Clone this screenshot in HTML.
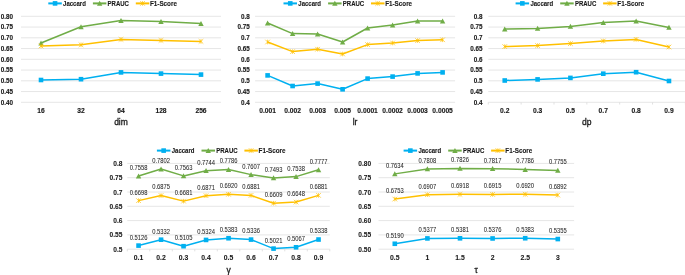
<!DOCTYPE html>
<html><head><meta charset="utf-8"><style>
html,body{margin:0;padding:0;background:#fff;width:685px;height:275px;overflow:hidden}
svg{display:block;font-family:"Liberation Sans",sans-serif;will-change:transform}
</style></head><body>
<svg width="685" height="275" viewBox="0 0 685 275">
<rect width="685" height="275" fill="#fff"/>
<line x1="21.00" y1="16.30" x2="221.00" y2="16.30" stroke="#DEDEDE" stroke-width="0.75"/>
<text transform="translate(12.90,18.55) scale(0.81,1)" text-anchor="end" font-size="7.8" font-weight="bold" fill="#1a1a1a" stroke="#1a1a1a" stroke-width="0.15">0.80</text>
<line x1="21.00" y1="27.05" x2="221.00" y2="27.05" stroke="#DEDEDE" stroke-width="0.75"/>
<text transform="translate(12.90,29.30) scale(0.81,1)" text-anchor="end" font-size="7.8" font-weight="bold" fill="#1a1a1a" stroke="#1a1a1a" stroke-width="0.15">0.75</text>
<line x1="21.00" y1="37.80" x2="221.00" y2="37.80" stroke="#DEDEDE" stroke-width="0.75"/>
<text transform="translate(12.90,40.05) scale(0.81,1)" text-anchor="end" font-size="7.8" font-weight="bold" fill="#1a1a1a" stroke="#1a1a1a" stroke-width="0.15">0.70</text>
<line x1="21.00" y1="48.55" x2="221.00" y2="48.55" stroke="#DEDEDE" stroke-width="0.75"/>
<text transform="translate(12.90,50.80) scale(0.81,1)" text-anchor="end" font-size="7.8" font-weight="bold" fill="#1a1a1a" stroke="#1a1a1a" stroke-width="0.15">0.65</text>
<line x1="21.00" y1="59.30" x2="221.00" y2="59.30" stroke="#DEDEDE" stroke-width="0.75"/>
<text transform="translate(12.90,61.55) scale(0.81,1)" text-anchor="end" font-size="7.8" font-weight="bold" fill="#1a1a1a" stroke="#1a1a1a" stroke-width="0.15">0.60</text>
<line x1="21.00" y1="70.05" x2="221.00" y2="70.05" stroke="#DEDEDE" stroke-width="0.75"/>
<text transform="translate(12.90,72.30) scale(0.81,1)" text-anchor="end" font-size="7.8" font-weight="bold" fill="#1a1a1a" stroke="#1a1a1a" stroke-width="0.15">0.55</text>
<line x1="21.00" y1="80.80" x2="221.00" y2="80.80" stroke="#DEDEDE" stroke-width="0.75"/>
<text transform="translate(12.90,83.05) scale(0.81,1)" text-anchor="end" font-size="7.8" font-weight="bold" fill="#1a1a1a" stroke="#1a1a1a" stroke-width="0.15">0.50</text>
<line x1="21.00" y1="91.55" x2="221.00" y2="91.55" stroke="#DEDEDE" stroke-width="0.75"/>
<text transform="translate(12.90,93.80) scale(0.81,1)" text-anchor="end" font-size="7.8" font-weight="bold" fill="#1a1a1a" stroke="#1a1a1a" stroke-width="0.15">0.45</text>
<line x1="21.00" y1="102.30" x2="221.00" y2="102.30" stroke="#DEDEDE" stroke-width="0.75"/>
<text transform="translate(12.90,104.55) scale(0.81,1)" text-anchor="end" font-size="7.8" font-weight="bold" fill="#1a1a1a" stroke="#1a1a1a" stroke-width="0.15">0.40</text>
<text transform="translate(41.00,112.75) scale(0.86,1)" text-anchor="middle" font-size="7.8" font-weight="bold" fill="#1a1a1a" stroke="#1a1a1a" stroke-width="0.15">16</text>
<text transform="translate(81.00,112.75) scale(0.86,1)" text-anchor="middle" font-size="7.8" font-weight="bold" fill="#1a1a1a" stroke="#1a1a1a" stroke-width="0.15">32</text>
<text transform="translate(121.00,112.75) scale(0.86,1)" text-anchor="middle" font-size="7.8" font-weight="bold" fill="#1a1a1a" stroke="#1a1a1a" stroke-width="0.15">64</text>
<text transform="translate(161.00,112.75) scale(0.86,1)" text-anchor="middle" font-size="7.8" font-weight="bold" fill="#1a1a1a" stroke="#1a1a1a" stroke-width="0.15">128</text>
<text transform="translate(201.00,112.75) scale(0.86,1)" text-anchor="middle" font-size="7.8" font-weight="bold" fill="#1a1a1a" stroke="#1a1a1a" stroke-width="0.15">256</text>
<text x="121.00" y="124.80" text-anchor="middle" font-size="8.5" fill="#1a1a1a" stroke="#1a1a1a" stroke-width="0.3">dim</text>
<path d="M41.00,80.00 L81.00,79.20 L121.00,72.40 L161.00,73.60 L201.00,74.60" stroke="#00B0F0" stroke-width="1.5" fill="none" stroke-linejoin="round"/>
<rect x="38.70" y="77.70" width="4.6" height="4.6" fill="#00B0F0"/>
<rect x="78.70" y="76.90" width="4.6" height="4.6" fill="#00B0F0"/>
<rect x="118.70" y="70.10" width="4.6" height="4.6" fill="#00B0F0"/>
<rect x="158.70" y="71.30" width="4.6" height="4.6" fill="#00B0F0"/>
<rect x="198.70" y="72.30" width="4.6" height="4.6" fill="#00B0F0"/>
<path d="M41.00,43.00 L81.00,26.80 L121.00,20.60 L161.00,21.60 L201.00,23.60" stroke="#70AD47" stroke-width="1.5" fill="none" stroke-linejoin="round"/>
<path d="M41.00,40.40 L43.70,45.40 L38.30,45.40Z" fill="#70AD47"/>
<path d="M81.00,24.20 L83.70,29.20 L78.30,29.20Z" fill="#70AD47"/>
<path d="M121.00,18.00 L123.70,23.00 L118.30,23.00Z" fill="#70AD47"/>
<path d="M161.00,19.00 L163.70,24.00 L158.30,24.00Z" fill="#70AD47"/>
<path d="M201.00,21.00 L203.70,26.00 L198.30,26.00Z" fill="#70AD47"/>
<path d="M41.00,46.00 L81.00,44.80 L121.00,39.40 L161.00,40.40 L201.00,41.40" stroke="#FFC000" stroke-width="1.5" fill="none" stroke-linejoin="round"/>
<path d="M38.70,43.70L43.30,48.30M43.30,43.70L38.70,48.30M41.00,43.70L41.00,48.30" stroke="#FFC000" stroke-width="0.7" fill="none"/>
<path d="M78.70,42.50L83.30,47.10M83.30,42.50L78.70,47.10M81.00,42.50L81.00,47.10" stroke="#FFC000" stroke-width="0.7" fill="none"/>
<path d="M118.70,37.10L123.30,41.70M123.30,37.10L118.70,41.70M121.00,37.10L121.00,41.70" stroke="#FFC000" stroke-width="0.7" fill="none"/>
<path d="M158.70,38.10L163.30,42.70M163.30,38.10L158.70,42.70M161.00,38.10L161.00,42.70" stroke="#FFC000" stroke-width="0.7" fill="none"/>
<path d="M198.70,39.10L203.30,43.70M203.30,39.10L198.70,43.70M201.00,39.10L201.00,43.70" stroke="#FFC000" stroke-width="0.7" fill="none"/>
<line x1="48.30" y1="3.40" x2="61.80" y2="3.40" stroke="#00B0F0" stroke-width="2"/>
<rect x="52.75" y="1.10" width="4.6" height="4.6" fill="#00B0F0"/>
<text transform="translate(63.10,5.90) scale(0.86,1)" text-anchor="start" font-size="7.0" font-weight="bold" fill="#1a1a1a" stroke="#1a1a1a" stroke-width="0.12">Jaccard</text>
<line x1="92.90" y1="3.40" x2="106.40" y2="3.40" stroke="#70AD47" stroke-width="2"/>
<path d="M99.65,0.80 L102.35,5.80 L96.95,5.80Z" fill="#70AD47"/>
<text transform="translate(107.60,5.90) scale(0.86,1)" text-anchor="start" font-size="7.0" font-weight="bold" fill="#1a1a1a" stroke="#1a1a1a" stroke-width="0.12">PRAUC</text>
<line x1="135.80" y1="3.40" x2="149.30" y2="3.40" stroke="#FFC000" stroke-width="2"/>
<path d="M140.25,1.10L144.85,5.70M144.85,1.10L140.25,5.70M142.55,1.10L142.55,5.70" stroke="#FFC000" stroke-width="0.7" fill="none"/>
<text transform="translate(150.00,5.90) scale(0.9,1)" text-anchor="start" font-size="7.0" font-weight="bold" fill="#1a1a1a" stroke="#1a1a1a" stroke-width="0.12">F1-Score</text>
<line x1="255.10" y1="16.30" x2="455.10" y2="16.30" stroke="#DEDEDE" stroke-width="0.75"/>
<text transform="translate(249.70,18.55) scale(0.81,1)" text-anchor="end" font-size="7.8" font-weight="bold" fill="#1a1a1a" stroke="#1a1a1a" stroke-width="0.15">0.8</text>
<line x1="255.10" y1="27.05" x2="455.10" y2="27.05" stroke="#DEDEDE" stroke-width="0.75"/>
<text transform="translate(249.70,29.30) scale(0.81,1)" text-anchor="end" font-size="7.8" font-weight="bold" fill="#1a1a1a" stroke="#1a1a1a" stroke-width="0.15">0.75</text>
<line x1="255.10" y1="37.80" x2="455.10" y2="37.80" stroke="#DEDEDE" stroke-width="0.75"/>
<text transform="translate(249.70,40.05) scale(0.81,1)" text-anchor="end" font-size="7.8" font-weight="bold" fill="#1a1a1a" stroke="#1a1a1a" stroke-width="0.15">0.7</text>
<line x1="255.10" y1="48.55" x2="455.10" y2="48.55" stroke="#DEDEDE" stroke-width="0.75"/>
<text transform="translate(249.70,50.80) scale(0.81,1)" text-anchor="end" font-size="7.8" font-weight="bold" fill="#1a1a1a" stroke="#1a1a1a" stroke-width="0.15">0.65</text>
<line x1="255.10" y1="59.30" x2="455.10" y2="59.30" stroke="#DEDEDE" stroke-width="0.75"/>
<text transform="translate(249.70,61.55) scale(0.81,1)" text-anchor="end" font-size="7.8" font-weight="bold" fill="#1a1a1a" stroke="#1a1a1a" stroke-width="0.15">0.6</text>
<line x1="255.10" y1="70.05" x2="455.10" y2="70.05" stroke="#DEDEDE" stroke-width="0.75"/>
<text transform="translate(249.70,72.30) scale(0.81,1)" text-anchor="end" font-size="7.8" font-weight="bold" fill="#1a1a1a" stroke="#1a1a1a" stroke-width="0.15">0.55</text>
<line x1="255.10" y1="80.80" x2="455.10" y2="80.80" stroke="#DEDEDE" stroke-width="0.75"/>
<text transform="translate(249.70,83.05) scale(0.81,1)" text-anchor="end" font-size="7.8" font-weight="bold" fill="#1a1a1a" stroke="#1a1a1a" stroke-width="0.15">0.5</text>
<line x1="255.10" y1="91.55" x2="455.10" y2="91.55" stroke="#DEDEDE" stroke-width="0.75"/>
<text transform="translate(249.70,93.80) scale(0.81,1)" text-anchor="end" font-size="7.8" font-weight="bold" fill="#1a1a1a" stroke="#1a1a1a" stroke-width="0.15">0.45</text>
<line x1="255.10" y1="102.30" x2="455.10" y2="102.30" stroke="#DEDEDE" stroke-width="0.75"/>
<text transform="translate(249.70,104.55) scale(0.81,1)" text-anchor="end" font-size="7.8" font-weight="bold" fill="#1a1a1a" stroke="#1a1a1a" stroke-width="0.15">0.4</text>
<text transform="translate(267.60,112.75) scale(0.86,1)" text-anchor="middle" font-size="7.8" font-weight="bold" fill="#1a1a1a" stroke="#1a1a1a" stroke-width="0.15">0.001</text>
<text transform="translate(292.60,112.75) scale(0.86,1)" text-anchor="middle" font-size="7.8" font-weight="bold" fill="#1a1a1a" stroke="#1a1a1a" stroke-width="0.15">0.002</text>
<text transform="translate(317.60,112.75) scale(0.86,1)" text-anchor="middle" font-size="7.8" font-weight="bold" fill="#1a1a1a" stroke="#1a1a1a" stroke-width="0.15">0.003</text>
<text transform="translate(342.60,112.75) scale(0.86,1)" text-anchor="middle" font-size="7.8" font-weight="bold" fill="#1a1a1a" stroke="#1a1a1a" stroke-width="0.15">0.005</text>
<text transform="translate(367.60,112.75) scale(0.86,1)" text-anchor="middle" font-size="7.8" font-weight="bold" fill="#1a1a1a" stroke="#1a1a1a" stroke-width="0.15">0.0001</text>
<text transform="translate(392.60,112.75) scale(0.86,1)" text-anchor="middle" font-size="7.8" font-weight="bold" fill="#1a1a1a" stroke="#1a1a1a" stroke-width="0.15">0.0002</text>
<text transform="translate(417.60,112.75) scale(0.86,1)" text-anchor="middle" font-size="7.8" font-weight="bold" fill="#1a1a1a" stroke="#1a1a1a" stroke-width="0.15">0.0003</text>
<text transform="translate(442.60,112.75) scale(0.86,1)" text-anchor="middle" font-size="7.8" font-weight="bold" fill="#1a1a1a" stroke="#1a1a1a" stroke-width="0.15">0.0005</text>
<text x="355.10" y="124.80" text-anchor="middle" font-size="8.5" fill="#1a1a1a" stroke="#1a1a1a" stroke-width="0.3">lr</text>
<path d="M267.60,75.40 L292.60,86.00 L317.60,83.60 L342.60,89.30 L367.60,78.60 L392.60,76.60 L417.60,73.40 L442.60,72.40" stroke="#00B0F0" stroke-width="1.5" fill="none" stroke-linejoin="round"/>
<rect x="265.30" y="73.10" width="4.6" height="4.6" fill="#00B0F0"/>
<rect x="290.30" y="83.70" width="4.6" height="4.6" fill="#00B0F0"/>
<rect x="315.30" y="81.30" width="4.6" height="4.6" fill="#00B0F0"/>
<rect x="340.30" y="87.00" width="4.6" height="4.6" fill="#00B0F0"/>
<rect x="365.30" y="76.30" width="4.6" height="4.6" fill="#00B0F0"/>
<rect x="390.30" y="74.30" width="4.6" height="4.6" fill="#00B0F0"/>
<rect x="415.30" y="71.10" width="4.6" height="4.6" fill="#00B0F0"/>
<rect x="440.30" y="70.10" width="4.6" height="4.6" fill="#00B0F0"/>
<path d="M267.60,23.00 L292.60,33.60 L317.60,34.00 L342.60,42.00 L367.60,28.00 L392.60,25.00 L417.60,21.00 L442.60,21.00" stroke="#70AD47" stroke-width="1.5" fill="none" stroke-linejoin="round"/>
<path d="M267.60,20.40 L270.30,25.40 L264.90,25.40Z" fill="#70AD47"/>
<path d="M292.60,31.00 L295.30,36.00 L289.90,36.00Z" fill="#70AD47"/>
<path d="M317.60,31.40 L320.30,36.40 L314.90,36.40Z" fill="#70AD47"/>
<path d="M342.60,39.40 L345.30,44.40 L339.90,44.40Z" fill="#70AD47"/>
<path d="M367.60,25.40 L370.30,30.40 L364.90,30.40Z" fill="#70AD47"/>
<path d="M392.60,22.40 L395.30,27.40 L389.90,27.40Z" fill="#70AD47"/>
<path d="M417.60,18.40 L420.30,23.40 L414.90,23.40Z" fill="#70AD47"/>
<path d="M442.60,18.40 L445.30,23.40 L439.90,23.40Z" fill="#70AD47"/>
<path d="M267.60,42.00 L292.60,51.60 L317.60,49.20 L342.60,54.00 L367.60,44.60 L392.60,43.00 L417.60,40.60 L442.60,39.80" stroke="#FFC000" stroke-width="1.5" fill="none" stroke-linejoin="round"/>
<path d="M265.30,39.70L269.90,44.30M269.90,39.70L265.30,44.30M267.60,39.70L267.60,44.30" stroke="#FFC000" stroke-width="0.7" fill="none"/>
<path d="M290.30,49.30L294.90,53.90M294.90,49.30L290.30,53.90M292.60,49.30L292.60,53.90" stroke="#FFC000" stroke-width="0.7" fill="none"/>
<path d="M315.30,46.90L319.90,51.50M319.90,46.90L315.30,51.50M317.60,46.90L317.60,51.50" stroke="#FFC000" stroke-width="0.7" fill="none"/>
<path d="M340.30,51.70L344.90,56.30M344.90,51.70L340.30,56.30M342.60,51.70L342.60,56.30" stroke="#FFC000" stroke-width="0.7" fill="none"/>
<path d="M365.30,42.30L369.90,46.90M369.90,42.30L365.30,46.90M367.60,42.30L367.60,46.90" stroke="#FFC000" stroke-width="0.7" fill="none"/>
<path d="M390.30,40.70L394.90,45.30M394.90,40.70L390.30,45.30M392.60,40.70L392.60,45.30" stroke="#FFC000" stroke-width="0.7" fill="none"/>
<path d="M415.30,38.30L419.90,42.90M419.90,38.30L415.30,42.90M417.60,38.30L417.60,42.90" stroke="#FFC000" stroke-width="0.7" fill="none"/>
<path d="M440.30,37.50L444.90,42.10M444.90,37.50L440.30,42.10M442.60,37.50L442.60,42.10" stroke="#FFC000" stroke-width="0.7" fill="none"/>
<line x1="283.50" y1="3.40" x2="297.00" y2="3.40" stroke="#00B0F0" stroke-width="2"/>
<rect x="287.95" y="1.10" width="4.6" height="4.6" fill="#00B0F0"/>
<text transform="translate(298.30,5.90) scale(0.86,1)" text-anchor="start" font-size="7.0" font-weight="bold" fill="#1a1a1a" stroke="#1a1a1a" stroke-width="0.12">Jaccard</text>
<line x1="328.10" y1="3.40" x2="341.60" y2="3.40" stroke="#70AD47" stroke-width="2"/>
<path d="M334.85,0.80 L337.55,5.80 L332.15,5.80Z" fill="#70AD47"/>
<text transform="translate(342.80,5.90) scale(0.86,1)" text-anchor="start" font-size="7.0" font-weight="bold" fill="#1a1a1a" stroke="#1a1a1a" stroke-width="0.12">PRAUC</text>
<line x1="371.00" y1="3.40" x2="384.50" y2="3.40" stroke="#FFC000" stroke-width="2"/>
<path d="M375.45,1.10L380.05,5.70M380.05,1.10L375.45,5.70M377.75,1.10L377.75,5.70" stroke="#FFC000" stroke-width="0.7" fill="none"/>
<text transform="translate(385.20,5.90) scale(0.9,1)" text-anchor="start" font-size="7.0" font-weight="bold" fill="#1a1a1a" stroke="#1a1a1a" stroke-width="0.12">F1-Score</text>
<line x1="488.30" y1="16.30" x2="685.40" y2="16.30" stroke="#DEDEDE" stroke-width="0.75"/>
<text transform="translate(482.50,18.55) scale(0.81,1)" text-anchor="end" font-size="7.8" font-weight="bold" fill="#1a1a1a" stroke="#1a1a1a" stroke-width="0.15">0.8</text>
<line x1="488.30" y1="27.05" x2="685.40" y2="27.05" stroke="#DEDEDE" stroke-width="0.75"/>
<text transform="translate(482.50,29.30) scale(0.81,1)" text-anchor="end" font-size="7.8" font-weight="bold" fill="#1a1a1a" stroke="#1a1a1a" stroke-width="0.15">0.75</text>
<line x1="488.30" y1="37.80" x2="685.40" y2="37.80" stroke="#DEDEDE" stroke-width="0.75"/>
<text transform="translate(482.50,40.05) scale(0.81,1)" text-anchor="end" font-size="7.8" font-weight="bold" fill="#1a1a1a" stroke="#1a1a1a" stroke-width="0.15">0.7</text>
<line x1="488.30" y1="48.55" x2="685.40" y2="48.55" stroke="#DEDEDE" stroke-width="0.75"/>
<text transform="translate(482.50,50.80) scale(0.81,1)" text-anchor="end" font-size="7.8" font-weight="bold" fill="#1a1a1a" stroke="#1a1a1a" stroke-width="0.15">0.65</text>
<line x1="488.30" y1="59.30" x2="685.40" y2="59.30" stroke="#DEDEDE" stroke-width="0.75"/>
<text transform="translate(482.50,61.55) scale(0.81,1)" text-anchor="end" font-size="7.8" font-weight="bold" fill="#1a1a1a" stroke="#1a1a1a" stroke-width="0.15">0.6</text>
<line x1="488.30" y1="70.05" x2="685.40" y2="70.05" stroke="#DEDEDE" stroke-width="0.75"/>
<text transform="translate(482.50,72.30) scale(0.81,1)" text-anchor="end" font-size="7.8" font-weight="bold" fill="#1a1a1a" stroke="#1a1a1a" stroke-width="0.15">0.55</text>
<line x1="488.30" y1="80.80" x2="685.40" y2="80.80" stroke="#DEDEDE" stroke-width="0.75"/>
<text transform="translate(482.50,83.05) scale(0.81,1)" text-anchor="end" font-size="7.8" font-weight="bold" fill="#1a1a1a" stroke="#1a1a1a" stroke-width="0.15">0.5</text>
<line x1="488.30" y1="91.55" x2="685.40" y2="91.55" stroke="#DEDEDE" stroke-width="0.75"/>
<text transform="translate(482.50,93.80) scale(0.81,1)" text-anchor="end" font-size="7.8" font-weight="bold" fill="#1a1a1a" stroke="#1a1a1a" stroke-width="0.15">0.45</text>
<line x1="488.30" y1="102.30" x2="685.40" y2="102.30" stroke="#DEDEDE" stroke-width="0.75"/>
<text transform="translate(482.50,104.55) scale(0.81,1)" text-anchor="end" font-size="7.8" font-weight="bold" fill="#1a1a1a" stroke="#1a1a1a" stroke-width="0.15">0.4</text>
<line x1="488.30" y1="102.30" x2="488.30" y2="104.50" stroke="#DEDEDE" stroke-width="0.9"/>
<line x1="521.15" y1="102.30" x2="521.15" y2="104.50" stroke="#DEDEDE" stroke-width="0.9"/>
<line x1="554.00" y1="102.30" x2="554.00" y2="104.50" stroke="#DEDEDE" stroke-width="0.9"/>
<line x1="586.85" y1="102.30" x2="586.85" y2="104.50" stroke="#DEDEDE" stroke-width="0.9"/>
<line x1="619.70" y1="102.30" x2="619.70" y2="104.50" stroke="#DEDEDE" stroke-width="0.9"/>
<line x1="652.55" y1="102.30" x2="652.55" y2="104.50" stroke="#DEDEDE" stroke-width="0.9"/>
<line x1="685.40" y1="102.30" x2="685.40" y2="104.50" stroke="#DEDEDE" stroke-width="0.9"/>
<text transform="translate(504.73,112.75) scale(0.86,1)" text-anchor="middle" font-size="7.8" font-weight="bold" fill="#1a1a1a" stroke="#1a1a1a" stroke-width="0.15">0.2</text>
<text transform="translate(537.58,112.75) scale(0.86,1)" text-anchor="middle" font-size="7.8" font-weight="bold" fill="#1a1a1a" stroke="#1a1a1a" stroke-width="0.15">0.3</text>
<text transform="translate(570.42,112.75) scale(0.86,1)" text-anchor="middle" font-size="7.8" font-weight="bold" fill="#1a1a1a" stroke="#1a1a1a" stroke-width="0.15">0.5</text>
<text transform="translate(603.27,112.75) scale(0.86,1)" text-anchor="middle" font-size="7.8" font-weight="bold" fill="#1a1a1a" stroke="#1a1a1a" stroke-width="0.15">0.7</text>
<text transform="translate(636.12,112.75) scale(0.86,1)" text-anchor="middle" font-size="7.8" font-weight="bold" fill="#1a1a1a" stroke="#1a1a1a" stroke-width="0.15">0.8</text>
<text transform="translate(668.98,112.75) scale(0.86,1)" text-anchor="middle" font-size="7.8" font-weight="bold" fill="#1a1a1a" stroke="#1a1a1a" stroke-width="0.15">0.9</text>
<text x="586.85" y="124.80" text-anchor="middle" font-size="8.5" fill="#1a1a1a" stroke="#1a1a1a" stroke-width="0.3">dp</text>
<path d="M504.73,80.50 L537.58,79.40 L570.42,77.90 L603.27,73.70 L636.12,72.20 L668.98,81.00" stroke="#00B0F0" stroke-width="1.5" fill="none" stroke-linejoin="round"/>
<rect x="502.43" y="78.20" width="4.6" height="4.6" fill="#00B0F0"/>
<rect x="535.28" y="77.10" width="4.6" height="4.6" fill="#00B0F0"/>
<rect x="568.12" y="75.60" width="4.6" height="4.6" fill="#00B0F0"/>
<rect x="600.98" y="71.40" width="4.6" height="4.6" fill="#00B0F0"/>
<rect x="633.83" y="69.90" width="4.6" height="4.6" fill="#00B0F0"/>
<rect x="666.68" y="78.70" width="4.6" height="4.6" fill="#00B0F0"/>
<path d="M504.73,29.00 L537.58,28.40 L570.42,26.40 L603.27,22.60 L636.12,21.00 L668.98,27.40" stroke="#70AD47" stroke-width="1.5" fill="none" stroke-linejoin="round"/>
<path d="M504.73,26.40 L507.43,31.40 L502.03,31.40Z" fill="#70AD47"/>
<path d="M537.58,25.80 L540.28,30.80 L534.88,30.80Z" fill="#70AD47"/>
<path d="M570.42,23.80 L573.12,28.80 L567.72,28.80Z" fill="#70AD47"/>
<path d="M603.27,20.00 L605.98,25.00 L600.57,25.00Z" fill="#70AD47"/>
<path d="M636.12,18.40 L638.83,23.40 L633.42,23.40Z" fill="#70AD47"/>
<path d="M668.98,24.80 L671.68,29.80 L666.27,29.80Z" fill="#70AD47"/>
<path d="M504.73,46.60 L537.58,45.60 L570.42,43.60 L603.27,41.00 L636.12,39.40 L668.98,47.00" stroke="#FFC000" stroke-width="1.5" fill="none" stroke-linejoin="round"/>
<path d="M502.43,44.30L507.03,48.90M507.03,44.30L502.43,48.90M504.73,44.30L504.73,48.90" stroke="#FFC000" stroke-width="0.7" fill="none"/>
<path d="M535.28,43.30L539.88,47.90M539.88,43.30L535.28,47.90M537.58,43.30L537.58,47.90" stroke="#FFC000" stroke-width="0.7" fill="none"/>
<path d="M568.12,41.30L572.72,45.90M572.72,41.30L568.12,45.90M570.42,41.30L570.42,45.90" stroke="#FFC000" stroke-width="0.7" fill="none"/>
<path d="M600.98,38.70L605.57,43.30M605.57,38.70L600.98,43.30M603.27,38.70L603.27,43.30" stroke="#FFC000" stroke-width="0.7" fill="none"/>
<path d="M633.83,37.10L638.42,41.70M638.42,37.10L633.83,41.70M636.12,37.10L636.12,41.70" stroke="#FFC000" stroke-width="0.7" fill="none"/>
<path d="M666.68,44.70L671.27,49.30M671.27,44.70L666.68,49.30M668.98,44.70L668.98,49.30" stroke="#FFC000" stroke-width="0.7" fill="none"/>
<line x1="515.60" y1="3.40" x2="529.10" y2="3.40" stroke="#00B0F0" stroke-width="2"/>
<rect x="520.05" y="1.10" width="4.6" height="4.6" fill="#00B0F0"/>
<text transform="translate(530.40,5.90) scale(0.86,1)" text-anchor="start" font-size="7.0" font-weight="bold" fill="#1a1a1a" stroke="#1a1a1a" stroke-width="0.12">Jaccard</text>
<line x1="560.20" y1="3.40" x2="573.70" y2="3.40" stroke="#70AD47" stroke-width="2"/>
<path d="M566.95,0.80 L569.65,5.80 L564.25,5.80Z" fill="#70AD47"/>
<text transform="translate(574.90,5.90) scale(0.86,1)" text-anchor="start" font-size="7.0" font-weight="bold" fill="#1a1a1a" stroke="#1a1a1a" stroke-width="0.12">PRAUC</text>
<line x1="603.10" y1="3.40" x2="616.60" y2="3.40" stroke="#FFC000" stroke-width="2"/>
<path d="M607.55,1.10L612.15,5.70M612.15,1.10L607.55,5.70M609.85,1.10L609.85,5.70" stroke="#FFC000" stroke-width="0.7" fill="none"/>
<text transform="translate(617.30,5.90) scale(0.9,1)" text-anchor="start" font-size="7.0" font-weight="bold" fill="#1a1a1a" stroke="#1a1a1a" stroke-width="0.12">F1-Score</text>
<line x1="127.30" y1="163.40" x2="329.80" y2="163.40" stroke="#DEDEDE" stroke-width="0.75"/>
<text transform="translate(122.40,165.90) scale(0.87,1)" text-anchor="end" font-size="7.6" font-weight="bold" fill="#1a1a1a" stroke="#1a1a1a" stroke-width="0.08">0.8</text>
<line x1="127.30" y1="177.70" x2="329.80" y2="177.70" stroke="#DEDEDE" stroke-width="0.75"/>
<text transform="translate(122.40,180.20) scale(0.87,1)" text-anchor="end" font-size="7.6" font-weight="bold" fill="#1a1a1a" stroke="#1a1a1a" stroke-width="0.08">0.75</text>
<line x1="127.30" y1="192.00" x2="329.80" y2="192.00" stroke="#DEDEDE" stroke-width="0.75"/>
<text transform="translate(122.40,194.50) scale(0.87,1)" text-anchor="end" font-size="7.6" font-weight="bold" fill="#1a1a1a" stroke="#1a1a1a" stroke-width="0.08">0.7</text>
<line x1="127.30" y1="206.30" x2="329.80" y2="206.30" stroke="#DEDEDE" stroke-width="0.75"/>
<text transform="translate(122.40,208.80) scale(0.87,1)" text-anchor="end" font-size="7.6" font-weight="bold" fill="#1a1a1a" stroke="#1a1a1a" stroke-width="0.08">0.65</text>
<line x1="127.30" y1="220.60" x2="329.80" y2="220.60" stroke="#DEDEDE" stroke-width="0.75"/>
<text transform="translate(122.40,223.10) scale(0.87,1)" text-anchor="end" font-size="7.6" font-weight="bold" fill="#1a1a1a" stroke="#1a1a1a" stroke-width="0.08">0.6</text>
<line x1="127.30" y1="234.90" x2="329.80" y2="234.90" stroke="#DEDEDE" stroke-width="0.75"/>
<text transform="translate(122.40,237.40) scale(0.87,1)" text-anchor="end" font-size="7.6" font-weight="bold" fill="#1a1a1a" stroke="#1a1a1a" stroke-width="0.08">0.55</text>
<line x1="127.30" y1="249.20" x2="329.80" y2="249.20" stroke="#DEDEDE" stroke-width="0.75"/>
<text transform="translate(122.40,251.70) scale(0.87,1)" text-anchor="end" font-size="7.6" font-weight="bold" fill="#1a1a1a" stroke="#1a1a1a" stroke-width="0.08">0.5</text>
<line x1="127.30" y1="249.20" x2="127.30" y2="251.40" stroke="#DEDEDE" stroke-width="0.9"/>
<line x1="149.80" y1="249.20" x2="149.80" y2="251.40" stroke="#DEDEDE" stroke-width="0.9"/>
<line x1="172.30" y1="249.20" x2="172.30" y2="251.40" stroke="#DEDEDE" stroke-width="0.9"/>
<line x1="194.80" y1="249.20" x2="194.80" y2="251.40" stroke="#DEDEDE" stroke-width="0.9"/>
<line x1="217.30" y1="249.20" x2="217.30" y2="251.40" stroke="#DEDEDE" stroke-width="0.9"/>
<line x1="239.80" y1="249.20" x2="239.80" y2="251.40" stroke="#DEDEDE" stroke-width="0.9"/>
<line x1="262.30" y1="249.20" x2="262.30" y2="251.40" stroke="#DEDEDE" stroke-width="0.9"/>
<line x1="284.80" y1="249.20" x2="284.80" y2="251.40" stroke="#DEDEDE" stroke-width="0.9"/>
<line x1="307.30" y1="249.20" x2="307.30" y2="251.40" stroke="#DEDEDE" stroke-width="0.9"/>
<line x1="329.80" y1="249.20" x2="329.80" y2="251.40" stroke="#DEDEDE" stroke-width="0.9"/>
<text transform="translate(138.55,260.20) scale(0.9,1)" text-anchor="middle" font-size="7.6" font-weight="bold" fill="#1a1a1a" stroke="#1a1a1a" stroke-width="0.08">0.1</text>
<text transform="translate(161.05,260.20) scale(0.9,1)" text-anchor="middle" font-size="7.6" font-weight="bold" fill="#1a1a1a" stroke="#1a1a1a" stroke-width="0.08">0.2</text>
<text transform="translate(183.55,260.20) scale(0.9,1)" text-anchor="middle" font-size="7.6" font-weight="bold" fill="#1a1a1a" stroke="#1a1a1a" stroke-width="0.08">0.3</text>
<text transform="translate(206.05,260.20) scale(0.9,1)" text-anchor="middle" font-size="7.6" font-weight="bold" fill="#1a1a1a" stroke="#1a1a1a" stroke-width="0.08">0.4</text>
<text transform="translate(228.55,260.20) scale(0.9,1)" text-anchor="middle" font-size="7.6" font-weight="bold" fill="#1a1a1a" stroke="#1a1a1a" stroke-width="0.08">0.5</text>
<text transform="translate(251.05,260.20) scale(0.9,1)" text-anchor="middle" font-size="7.6" font-weight="bold" fill="#1a1a1a" stroke="#1a1a1a" stroke-width="0.08">0.6</text>
<text transform="translate(273.55,260.20) scale(0.9,1)" text-anchor="middle" font-size="7.6" font-weight="bold" fill="#1a1a1a" stroke="#1a1a1a" stroke-width="0.08">0.7</text>
<text transform="translate(296.05,260.20) scale(0.9,1)" text-anchor="middle" font-size="7.6" font-weight="bold" fill="#1a1a1a" stroke="#1a1a1a" stroke-width="0.08">0.8</text>
<text transform="translate(318.55,260.20) scale(0.9,1)" text-anchor="middle" font-size="7.6" font-weight="bold" fill="#1a1a1a" stroke="#1a1a1a" stroke-width="0.08">0.9</text>
<text x="228.55" y="272.80" text-anchor="middle" font-size="8.5" fill="#1a1a1a" stroke="#1a1a1a" stroke-width="0.3">γ</text>
<path d="M138.55,245.60 L161.05,239.70 L183.55,246.20 L206.05,239.93 L228.55,238.25 L251.05,239.59 L273.55,248.60 L296.05,247.28 L318.55,239.53" stroke="#00B0F0" stroke-width="1.5" fill="none" stroke-linejoin="round"/>
<rect x="136.25" y="243.30" width="4.6" height="4.6" fill="#00B0F0"/>
<rect x="158.75" y="237.40" width="4.6" height="4.6" fill="#00B0F0"/>
<rect x="181.25" y="243.90" width="4.6" height="4.6" fill="#00B0F0"/>
<rect x="203.75" y="237.63" width="4.6" height="4.6" fill="#00B0F0"/>
<rect x="226.25" y="235.95" width="4.6" height="4.6" fill="#00B0F0"/>
<rect x="248.75" y="237.29" width="4.6" height="4.6" fill="#00B0F0"/>
<rect x="271.25" y="246.30" width="4.6" height="4.6" fill="#00B0F0"/>
<rect x="293.75" y="244.98" width="4.6" height="4.6" fill="#00B0F0"/>
<rect x="316.25" y="237.23" width="4.6" height="4.6" fill="#00B0F0"/>
<text transform="translate(138.55,239.50) scale(0.91,1)" text-anchor="middle" font-size="6.4" font-weight="normal" fill="#262626" stroke="#262626" stroke-width="0.05">0.5126</text>
<text transform="translate(161.05,233.60) scale(0.91,1)" text-anchor="middle" font-size="6.4" font-weight="normal" fill="#262626" stroke="#262626" stroke-width="0.05">0.5332</text>
<text transform="translate(183.55,240.10) scale(0.91,1)" text-anchor="middle" font-size="6.4" font-weight="normal" fill="#262626" stroke="#262626" stroke-width="0.05">0.5105</text>
<text transform="translate(206.05,233.83) scale(0.91,1)" text-anchor="middle" font-size="6.4" font-weight="normal" fill="#262626" stroke="#262626" stroke-width="0.05">0.5324</text>
<text transform="translate(228.55,232.15) scale(0.91,1)" text-anchor="middle" font-size="6.4" font-weight="normal" fill="#262626" stroke="#262626" stroke-width="0.05">0.5383</text>
<text transform="translate(251.05,233.49) scale(0.91,1)" text-anchor="middle" font-size="6.4" font-weight="normal" fill="#262626" stroke="#262626" stroke-width="0.05">0.5336</text>
<text transform="translate(273.55,242.50) scale(0.91,1)" text-anchor="middle" font-size="6.4" font-weight="normal" fill="#262626" stroke="#262626" stroke-width="0.05">0.5021</text>
<text transform="translate(296.05,241.18) scale(0.91,1)" text-anchor="middle" font-size="6.4" font-weight="normal" fill="#262626" stroke="#262626" stroke-width="0.05">0.5067</text>
<text transform="translate(318.55,233.43) scale(0.91,1)" text-anchor="middle" font-size="6.4" font-weight="normal" fill="#262626" stroke="#262626" stroke-width="0.05">0.5338</text>
<path d="M138.55,176.04 L161.05,169.06 L183.55,175.90 L206.05,170.72 L228.55,169.52 L251.05,174.64 L273.55,177.90 L296.05,176.61 L318.55,169.78" stroke="#70AD47" stroke-width="1.5" fill="none" stroke-linejoin="round"/>
<path d="M138.55,173.44 L141.25,178.44 L135.85,178.44Z" fill="#70AD47"/>
<path d="M161.05,166.46 L163.75,171.46 L158.35,171.46Z" fill="#70AD47"/>
<path d="M183.55,173.30 L186.25,178.30 L180.85,178.30Z" fill="#70AD47"/>
<path d="M206.05,168.12 L208.75,173.12 L203.35,173.12Z" fill="#70AD47"/>
<path d="M228.55,166.92 L231.25,171.92 L225.85,171.92Z" fill="#70AD47"/>
<path d="M251.05,172.04 L253.75,177.04 L248.35,177.04Z" fill="#70AD47"/>
<path d="M273.55,175.30 L276.25,180.30 L270.85,180.30Z" fill="#70AD47"/>
<path d="M296.05,174.01 L298.75,179.01 L293.35,179.01Z" fill="#70AD47"/>
<path d="M318.55,167.18 L321.25,172.18 L315.85,172.18Z" fill="#70AD47"/>
<text transform="translate(138.55,169.94) scale(0.91,1)" text-anchor="middle" font-size="6.4" font-weight="normal" fill="#262626" stroke="#262626" stroke-width="0.05">0.7558</text>
<text transform="translate(161.05,162.96) scale(0.91,1)" text-anchor="middle" font-size="6.4" font-weight="normal" fill="#262626" stroke="#262626" stroke-width="0.05">0.7802</text>
<text transform="translate(183.55,169.80) scale(0.91,1)" text-anchor="middle" font-size="6.4" font-weight="normal" fill="#262626" stroke="#262626" stroke-width="0.05">0.7563</text>
<text transform="translate(206.05,164.62) scale(0.91,1)" text-anchor="middle" font-size="6.4" font-weight="normal" fill="#262626" stroke="#262626" stroke-width="0.05">0.7744</text>
<text transform="translate(228.55,163.42) scale(0.91,1)" text-anchor="middle" font-size="6.4" font-weight="normal" fill="#262626" stroke="#262626" stroke-width="0.05">0.7786</text>
<text transform="translate(251.05,168.54) scale(0.91,1)" text-anchor="middle" font-size="6.4" font-weight="normal" fill="#262626" stroke="#262626" stroke-width="0.05">0.7607</text>
<text transform="translate(273.55,171.80) scale(0.91,1)" text-anchor="middle" font-size="6.4" font-weight="normal" fill="#262626" stroke="#262626" stroke-width="0.05">0.7493</text>
<text transform="translate(296.05,170.51) scale(0.91,1)" text-anchor="middle" font-size="6.4" font-weight="normal" fill="#262626" stroke="#262626" stroke-width="0.05">0.7538</text>
<text transform="translate(318.55,163.68) scale(0.91,1)" text-anchor="middle" font-size="6.4" font-weight="normal" fill="#262626" stroke="#262626" stroke-width="0.05">0.7777</text>
<path d="M138.55,200.64 L161.05,195.58 L183.55,201.12 L206.05,195.69 L228.55,194.29 L251.05,195.40 L273.55,203.18 L296.05,202.07 L318.55,195.40" stroke="#FFC000" stroke-width="1.5" fill="none" stroke-linejoin="round"/>
<path d="M136.25,198.34L140.85,202.94M140.85,198.34L136.25,202.94M138.55,198.34L138.55,202.94" stroke="#FFC000" stroke-width="0.7" fill="none"/>
<path d="M158.75,193.28L163.35,197.88M163.35,193.28L158.75,197.88M161.05,193.28L161.05,197.88" stroke="#FFC000" stroke-width="0.7" fill="none"/>
<path d="M181.25,198.82L185.85,203.42M185.85,198.82L181.25,203.42M183.55,198.82L183.55,203.42" stroke="#FFC000" stroke-width="0.7" fill="none"/>
<path d="M203.75,193.39L208.35,197.99M208.35,193.39L203.75,197.99M206.05,193.39L206.05,197.99" stroke="#FFC000" stroke-width="0.7" fill="none"/>
<path d="M226.25,191.99L230.85,196.59M230.85,191.99L226.25,196.59M228.55,191.99L228.55,196.59" stroke="#FFC000" stroke-width="0.7" fill="none"/>
<path d="M248.75,193.10L253.35,197.70M253.35,193.10L248.75,197.70M251.05,193.10L251.05,197.70" stroke="#FFC000" stroke-width="0.7" fill="none"/>
<path d="M271.25,200.88L275.85,205.48M275.85,200.88L271.25,205.48M273.55,200.88L273.55,205.48" stroke="#FFC000" stroke-width="0.7" fill="none"/>
<path d="M293.75,199.77L298.35,204.37M298.35,199.77L293.75,204.37M296.05,199.77L296.05,204.37" stroke="#FFC000" stroke-width="0.7" fill="none"/>
<path d="M316.25,193.10L320.85,197.70M320.85,193.10L316.25,197.70M318.55,193.10L318.55,197.70" stroke="#FFC000" stroke-width="0.7" fill="none"/>
<text transform="translate(138.55,194.54) scale(0.91,1)" text-anchor="middle" font-size="6.4" font-weight="normal" fill="#262626" stroke="#262626" stroke-width="0.05">0.6698</text>
<text transform="translate(161.05,189.48) scale(0.91,1)" text-anchor="middle" font-size="6.4" font-weight="normal" fill="#262626" stroke="#262626" stroke-width="0.05">0.6875</text>
<text transform="translate(183.55,195.02) scale(0.91,1)" text-anchor="middle" font-size="6.4" font-weight="normal" fill="#262626" stroke="#262626" stroke-width="0.05">0.6681</text>
<text transform="translate(206.05,189.59) scale(0.91,1)" text-anchor="middle" font-size="6.4" font-weight="normal" fill="#262626" stroke="#262626" stroke-width="0.05">0.6871</text>
<text transform="translate(228.55,188.19) scale(0.91,1)" text-anchor="middle" font-size="6.4" font-weight="normal" fill="#262626" stroke="#262626" stroke-width="0.05">0.6920</text>
<text transform="translate(251.05,189.30) scale(0.91,1)" text-anchor="middle" font-size="6.4" font-weight="normal" fill="#262626" stroke="#262626" stroke-width="0.05">0.6881</text>
<text transform="translate(273.55,197.08) scale(0.91,1)" text-anchor="middle" font-size="6.4" font-weight="normal" fill="#262626" stroke="#262626" stroke-width="0.05">0.6609</text>
<text transform="translate(296.05,195.97) scale(0.91,1)" text-anchor="middle" font-size="6.4" font-weight="normal" fill="#262626" stroke="#262626" stroke-width="0.05">0.6648</text>
<text transform="translate(318.55,189.30) scale(0.91,1)" text-anchor="middle" font-size="6.4" font-weight="normal" fill="#262626" stroke="#262626" stroke-width="0.05">0.6881</text>
<line x1="156.90" y1="150.60" x2="170.40" y2="150.60" stroke="#00B0F0" stroke-width="2"/>
<rect x="161.35" y="148.30" width="4.6" height="4.6" fill="#00B0F0"/>
<text transform="translate(171.70,153.10) scale(0.86,1)" text-anchor="start" font-size="7.0" font-weight="bold" fill="#1a1a1a" stroke="#1a1a1a" stroke-width="0.12">Jaccard</text>
<line x1="201.50" y1="150.60" x2="215.00" y2="150.60" stroke="#70AD47" stroke-width="2"/>
<path d="M208.25,148.00 L210.95,153.00 L205.55,153.00Z" fill="#70AD47"/>
<text transform="translate(216.20,153.10) scale(0.86,1)" text-anchor="start" font-size="7.0" font-weight="bold" fill="#1a1a1a" stroke="#1a1a1a" stroke-width="0.12">PRAUC</text>
<line x1="244.40" y1="150.60" x2="257.90" y2="150.60" stroke="#FFC000" stroke-width="2"/>
<path d="M248.85,148.30L253.45,152.90M253.45,148.30L248.85,152.90M251.15,148.30L251.15,152.90" stroke="#FFC000" stroke-width="0.7" fill="none"/>
<text transform="translate(258.60,153.10) scale(0.9,1)" text-anchor="start" font-size="7.0" font-weight="bold" fill="#1a1a1a" stroke="#1a1a1a" stroke-width="0.12">F1-Score</text>
<line x1="378.50" y1="163.40" x2="574.10" y2="163.40" stroke="#DEDEDE" stroke-width="0.75"/>
<text transform="translate(371.20,165.90) scale(0.87,1)" text-anchor="end" font-size="7.6" font-weight="bold" fill="#1a1a1a" stroke="#1a1a1a" stroke-width="0.08">0.80</text>
<line x1="378.50" y1="177.70" x2="574.10" y2="177.70" stroke="#DEDEDE" stroke-width="0.75"/>
<text transform="translate(371.20,180.20) scale(0.87,1)" text-anchor="end" font-size="7.6" font-weight="bold" fill="#1a1a1a" stroke="#1a1a1a" stroke-width="0.08">0.75</text>
<line x1="378.50" y1="192.00" x2="574.10" y2="192.00" stroke="#DEDEDE" stroke-width="0.75"/>
<text transform="translate(371.20,194.50) scale(0.87,1)" text-anchor="end" font-size="7.6" font-weight="bold" fill="#1a1a1a" stroke="#1a1a1a" stroke-width="0.08">0.70</text>
<line x1="378.50" y1="206.30" x2="574.10" y2="206.30" stroke="#DEDEDE" stroke-width="0.75"/>
<text transform="translate(371.20,208.80) scale(0.87,1)" text-anchor="end" font-size="7.6" font-weight="bold" fill="#1a1a1a" stroke="#1a1a1a" stroke-width="0.08">0.65</text>
<line x1="378.50" y1="220.60" x2="574.10" y2="220.60" stroke="#DEDEDE" stroke-width="0.75"/>
<text transform="translate(371.20,223.10) scale(0.87,1)" text-anchor="end" font-size="7.6" font-weight="bold" fill="#1a1a1a" stroke="#1a1a1a" stroke-width="0.08">0.60</text>
<line x1="378.50" y1="234.90" x2="574.10" y2="234.90" stroke="#DEDEDE" stroke-width="0.75"/>
<text transform="translate(371.20,237.40) scale(0.87,1)" text-anchor="end" font-size="7.6" font-weight="bold" fill="#1a1a1a" stroke="#1a1a1a" stroke-width="0.08">0.55</text>
<line x1="378.50" y1="249.20" x2="574.10" y2="249.20" stroke="#DEDEDE" stroke-width="0.75"/>
<text transform="translate(371.20,251.70) scale(0.87,1)" text-anchor="end" font-size="7.6" font-weight="bold" fill="#1a1a1a" stroke="#1a1a1a" stroke-width="0.08">0.50</text>
<text transform="translate(394.80,260.00) scale(0.9,1)" text-anchor="middle" font-size="7.6" font-weight="bold" fill="#1a1a1a" stroke="#1a1a1a" stroke-width="0.08">0.5</text>
<text transform="translate(427.40,260.00) scale(0.9,1)" text-anchor="middle" font-size="7.6" font-weight="bold" fill="#1a1a1a" stroke="#1a1a1a" stroke-width="0.08">1</text>
<text transform="translate(460.00,260.00) scale(0.9,1)" text-anchor="middle" font-size="7.6" font-weight="bold" fill="#1a1a1a" stroke="#1a1a1a" stroke-width="0.08">1.5</text>
<text transform="translate(492.60,260.00) scale(0.9,1)" text-anchor="middle" font-size="7.6" font-weight="bold" fill="#1a1a1a" stroke="#1a1a1a" stroke-width="0.08">2</text>
<text transform="translate(525.20,260.00) scale(0.9,1)" text-anchor="middle" font-size="7.6" font-weight="bold" fill="#1a1a1a" stroke="#1a1a1a" stroke-width="0.08">2.5</text>
<text transform="translate(557.80,260.00) scale(0.9,1)" text-anchor="middle" font-size="7.6" font-weight="bold" fill="#1a1a1a" stroke="#1a1a1a" stroke-width="0.08">3</text>
<text x="476.30" y="272.50" text-anchor="middle" font-size="8.5" fill="#1a1a1a" stroke="#1a1a1a" stroke-width="0.3">τ</text>
<path d="M394.80,243.77 L427.40,238.42 L460.00,238.30 L492.60,238.45 L525.20,238.25 L557.80,239.05" stroke="#00B0F0" stroke-width="1.5" fill="none" stroke-linejoin="round"/>
<rect x="392.50" y="241.47" width="4.6" height="4.6" fill="#00B0F0"/>
<rect x="425.10" y="236.12" width="4.6" height="4.6" fill="#00B0F0"/>
<rect x="457.70" y="236.00" width="4.6" height="4.6" fill="#00B0F0"/>
<rect x="490.30" y="236.15" width="4.6" height="4.6" fill="#00B0F0"/>
<rect x="522.90" y="235.95" width="4.6" height="4.6" fill="#00B0F0"/>
<rect x="555.50" y="236.75" width="4.6" height="4.6" fill="#00B0F0"/>
<text transform="translate(394.80,237.67) scale(0.91,1)" text-anchor="middle" font-size="6.4" font-weight="normal" fill="#262626" stroke="#262626" stroke-width="0.05">0.5190</text>
<text transform="translate(427.40,232.32) scale(0.91,1)" text-anchor="middle" font-size="6.4" font-weight="normal" fill="#262626" stroke="#262626" stroke-width="0.05">0.5377</text>
<text transform="translate(460.00,232.20) scale(0.91,1)" text-anchor="middle" font-size="6.4" font-weight="normal" fill="#262626" stroke="#262626" stroke-width="0.05">0.5381</text>
<text transform="translate(492.60,232.35) scale(0.91,1)" text-anchor="middle" font-size="6.4" font-weight="normal" fill="#262626" stroke="#262626" stroke-width="0.05">0.5376</text>
<text transform="translate(525.20,232.15) scale(0.91,1)" text-anchor="middle" font-size="6.4" font-weight="normal" fill="#262626" stroke="#262626" stroke-width="0.05">0.5383</text>
<text transform="translate(557.80,232.95) scale(0.91,1)" text-anchor="middle" font-size="6.4" font-weight="normal" fill="#262626" stroke="#262626" stroke-width="0.05">0.5355</text>
<path d="M394.80,173.87 L427.40,168.89 L460.00,168.38 L492.60,168.63 L525.20,169.52 L557.80,170.41" stroke="#70AD47" stroke-width="1.5" fill="none" stroke-linejoin="round"/>
<path d="M394.80,171.27 L397.50,176.27 L392.10,176.27Z" fill="#70AD47"/>
<path d="M427.40,166.29 L430.10,171.29 L424.70,171.29Z" fill="#70AD47"/>
<path d="M460.00,165.78 L462.70,170.78 L457.30,170.78Z" fill="#70AD47"/>
<path d="M492.60,166.03 L495.30,171.03 L489.90,171.03Z" fill="#70AD47"/>
<path d="M525.20,166.92 L527.90,171.92 L522.50,171.92Z" fill="#70AD47"/>
<path d="M557.80,167.81 L560.50,172.81 L555.10,172.81Z" fill="#70AD47"/>
<text transform="translate(394.80,167.77) scale(0.91,1)" text-anchor="middle" font-size="6.4" font-weight="normal" fill="#262626" stroke="#262626" stroke-width="0.05">0.7634</text>
<text transform="translate(427.40,162.79) scale(0.91,1)" text-anchor="middle" font-size="6.4" font-weight="normal" fill="#262626" stroke="#262626" stroke-width="0.05">0.7808</text>
<text transform="translate(460.00,162.28) scale(0.91,1)" text-anchor="middle" font-size="6.4" font-weight="normal" fill="#262626" stroke="#262626" stroke-width="0.05">0.7826</text>
<text transform="translate(492.60,162.53) scale(0.91,1)" text-anchor="middle" font-size="6.4" font-weight="normal" fill="#262626" stroke="#262626" stroke-width="0.05">0.7817</text>
<text transform="translate(525.20,163.42) scale(0.91,1)" text-anchor="middle" font-size="6.4" font-weight="normal" fill="#262626" stroke="#262626" stroke-width="0.05">0.7786</text>
<text transform="translate(557.80,164.31) scale(0.91,1)" text-anchor="middle" font-size="6.4" font-weight="normal" fill="#262626" stroke="#262626" stroke-width="0.05">0.7755</text>
<path d="M394.80,199.06 L427.40,194.66 L460.00,194.35 L492.60,194.43 L525.20,194.29 L557.80,195.09" stroke="#FFC000" stroke-width="1.5" fill="none" stroke-linejoin="round"/>
<path d="M392.50,196.76L397.10,201.36M397.10,196.76L392.50,201.36M394.80,196.76L394.80,201.36" stroke="#FFC000" stroke-width="0.7" fill="none"/>
<path d="M425.10,192.36L429.70,196.96M429.70,192.36L425.10,196.96M427.40,192.36L427.40,196.96" stroke="#FFC000" stroke-width="0.7" fill="none"/>
<path d="M457.70,192.05L462.30,196.65M462.30,192.05L457.70,196.65M460.00,192.05L460.00,196.65" stroke="#FFC000" stroke-width="0.7" fill="none"/>
<path d="M490.30,192.13L494.90,196.73M494.90,192.13L490.30,196.73M492.60,192.13L492.60,196.73" stroke="#FFC000" stroke-width="0.7" fill="none"/>
<path d="M522.90,191.99L527.50,196.59M527.50,191.99L522.90,196.59M525.20,191.99L525.20,196.59" stroke="#FFC000" stroke-width="0.7" fill="none"/>
<path d="M555.50,192.79L560.10,197.39M560.10,192.79L555.50,197.39M557.80,192.79L557.80,197.39" stroke="#FFC000" stroke-width="0.7" fill="none"/>
<text transform="translate(394.80,192.96) scale(0.91,1)" text-anchor="middle" font-size="6.4" font-weight="normal" fill="#262626" stroke="#262626" stroke-width="0.05">0.6753</text>
<text transform="translate(427.40,188.56) scale(0.91,1)" text-anchor="middle" font-size="6.4" font-weight="normal" fill="#262626" stroke="#262626" stroke-width="0.05">0.6907</text>
<text transform="translate(460.00,188.25) scale(0.91,1)" text-anchor="middle" font-size="6.4" font-weight="normal" fill="#262626" stroke="#262626" stroke-width="0.05">0.6918</text>
<text transform="translate(492.60,188.33) scale(0.91,1)" text-anchor="middle" font-size="6.4" font-weight="normal" fill="#262626" stroke="#262626" stroke-width="0.05">0.6915</text>
<text transform="translate(525.20,188.19) scale(0.91,1)" text-anchor="middle" font-size="6.4" font-weight="normal" fill="#262626" stroke="#262626" stroke-width="0.05">0.6920</text>
<text transform="translate(557.80,188.99) scale(0.91,1)" text-anchor="middle" font-size="6.4" font-weight="normal" fill="#262626" stroke="#262626" stroke-width="0.05">0.6892</text>
<line x1="403.60" y1="150.60" x2="417.10" y2="150.60" stroke="#00B0F0" stroke-width="2"/>
<rect x="408.05" y="148.30" width="4.6" height="4.6" fill="#00B0F0"/>
<text transform="translate(418.40,153.10) scale(0.86,1)" text-anchor="start" font-size="7.0" font-weight="bold" fill="#1a1a1a" stroke="#1a1a1a" stroke-width="0.12">Jaccard</text>
<line x1="448.20" y1="150.60" x2="461.70" y2="150.60" stroke="#70AD47" stroke-width="2"/>
<path d="M454.95,148.00 L457.65,153.00 L452.25,153.00Z" fill="#70AD47"/>
<text transform="translate(462.90,153.10) scale(0.86,1)" text-anchor="start" font-size="7.0" font-weight="bold" fill="#1a1a1a" stroke="#1a1a1a" stroke-width="0.12">PRAUC</text>
<line x1="491.10" y1="150.60" x2="504.60" y2="150.60" stroke="#FFC000" stroke-width="2"/>
<path d="M495.55,148.30L500.15,152.90M500.15,148.30L495.55,152.90M497.85,148.30L497.85,152.90" stroke="#FFC000" stroke-width="0.7" fill="none"/>
<text transform="translate(505.30,153.10) scale(0.9,1)" text-anchor="start" font-size="7.0" font-weight="bold" fill="#1a1a1a" stroke="#1a1a1a" stroke-width="0.12">F1-Score</text>
</svg>
</body></html>
